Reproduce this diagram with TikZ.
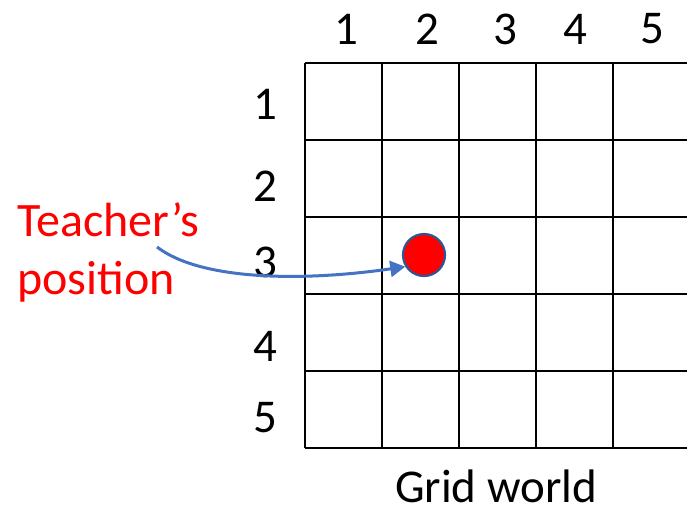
\documentclass[tikz,border=0pt]{standalone}
\usepackage{fontspec}
\setmainfont{Carlito}
\usetikzlibrary{arrows.meta,positioning,calc}
\definecolor{arrowblue}{HTML}{4472C4}
\definecolor{dotline}{HTML}{2F5597}
\tikzset{
  gridline/.style={line width=2.4pt,black},
  numlabel/.style={font=\fontsize{47}{52}\selectfont,inner sep=0pt},
  redlabel/.style={font=\fontsize{48}{58}\selectfont,text=red,align=left,inner sep=0pt},
  teacher/.style={circle,fill=red,draw=dotline,line width=2.2pt,minimum size=42pt,inner sep=0pt},
  pointer/.style={-{Triangle[length=15pt,width=16pt]},line width=3pt,arrowblue}
}

\begin{document}
\begin{tikzpicture}[x=1pt,y=-1pt]
    \useasboundingbox (0,0) rectangle (687,506);

    % grid of 5x5 cells, the right edge falls off the page
    \foreach \i in {0,...,5} {
      \draw[gridline] (305,63+\i*77) -- (687,63+\i*77);
    }
    \foreach \i in {0,...,4} {
      \draw[gridline] (305+\i*77,63) -- (305+\i*77,448);
    }

    \foreach \x/\n in {346/1,427/2,505/3,575/4,652/5} {
      \node[numlabel] (col\n) at (\x,29) {\n};
    }
    \foreach \y/\n in {104/1,186/2,262/3,346/4,418/5} {
      \node[numlabel] (row\n) at (265,\y) {\n};
    }

    \node[teacher] (dot) at (424,255) {};
    \node[redlabel,anchor=west] (teacherlbl) at (17,252) {Teacher’s\\position};
    \coordinate (from) at (157,247);
    \draw[pointer] (from) .. controls (200,280) and (300,282) .. (dot.212);

    \node[numlabel] (caption) at (496,486) {Grid world};
  \end{tikzpicture}
\end{document}
